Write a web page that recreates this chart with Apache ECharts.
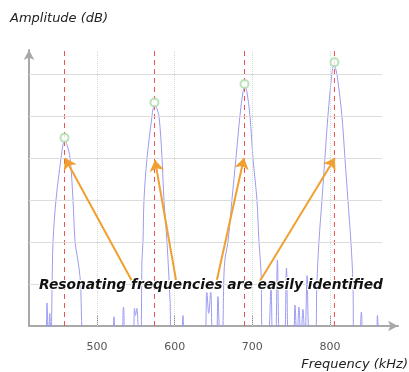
<!DOCTYPE html>
<html><head><meta charset="utf-8">
<script src="https://cdn.jsdelivr.net/npm/echarts@6/dist/echarts.min.js"></script>
<style>html,body{margin:0;padding:0;background:#fff}#c{width:409px;height:372px}</style>
</head><body><div id="c"></div>
<script>
// Spectrum curve (frequency kHz, amplitude in grid units; values below 0 fall under the axis)
const freq = [414,434,435.6,437.4,439.2,440.8,
 442.1,443.4,447.2,453.7,456.3,458.8,461.3,465.3,469.1,471.7,474.6,478,485.8,
 519,521.9,524.5,530.9,534.1,537.3,546.3,548.3,549.6,551.3,553.8,
 556.2,557.9,559.2,560.5,564.4,570.8,572.3,574.6,577.0,579.8,583.7,586.2,590.1,594,596.5,
 608.1,610.7,613.3,637.7,641.4,643.8,646.4,649.3,653.2,655.7,658.3,
 660.9,663.4,664.9,668.6,673.7,678.9,684.0,688.0,690.5,693.0,696.9,700.8,705.9,708.5,711.1,713.6,
 720.1,724.0,726.5,729.5,732.3,735.5,740.7,743.9,747.1,752.3,754.8,757.4,760.0,762.5,765.1,767.7,770.5,773.5,
 780.6,783.1,785.7,789.6,793.4,797.3,802.4,805.0,807.4,810.0,815.3,819.2,823.0,826.9,829.5,830.8,
 837.2,840.4,843.6,859.1,861.0,862.9,866.8];
const amp = [-1,-0.3,0.55,-0.3,0.3,-0.5,
 0.86,2.0,3.0,4.0,4.32,4.40,4.32,4.0,3.0,2.0,1.66,1.2,-0.5,
 -0.4,0.22,-0.4,-0.4,0.45,-0.4,-0.3,0.42,0.25,0.42,-0.3,
 -0.5,1.57,2.0,3.0,4.0,5.0,5.18,5.26,5.18,5.0,4.0,3.0,2.0,0.62,-0.5,
 -0.4,0.25,-0.4,-0.4,0.8,0.3,0.8,-0.4,-0.4,0.7,-0.4,
 -0.5,1.2,1.62,2.0,3.0,4.0,5.0,5.58,5.69,5.58,5.0,4.0,3.0,2.0,1.33,-0.5,
 -0.4,0.9,-0.4,-0.4,1.57,-0.4,-0.4,1.38,-0.4,-0.4,0.5,-0.4,0.45,-0.4,0.4,-0.4,1.2,-0.4,
 -0.5,1.0,2.0,3.0,4.0,5.0,6.0,6.21,6.12,5.85,5.0,4.0,3.0,2.0,1.0,-0.5,
 -0.4,0.33,-0.4,-0.4,0.25,-0.4,-1];
// Identified resonances
const peakFreq = [458.15, 574.0, 689.9, 805.7];
const peakAmp = [4.48, 5.32, 5.76, 6.28];
// Arrow annotations: tail (near the caption) -> tip (on each peak)
const arrowTail = [[545,1.07],[601.7,1.1],[654.4,1.1],[709.8,1.07]];
const arrowTip = [[458.8,4.0],[574.6,3.95],[689.2,4.0],[806.3,4.0]];
// Axis ticks / grid levels
const xTicks = [500, 600, 700, 800];
const yLevels = [1, 2, 3, 4, 5, 6];
const xMin = 412.45, xMax = 887.5, gridEnd = 867, yMax = 276/42;

const chart = echarts.init(document.getElementById('c'));
const curve = freq.map((f, i) => [f, amp[i]]);
const redSeries = peakFreq.map(f => ({
  type: 'line', data: [[f, 0], [f, yMax]], showSymbol: false, silent: true, z: 3,
  lineStyle: {color: '#f05050', type: [5, 4], width: 1}
}));
chart.setOption({
  animation: false,
  grid: {left: 29, top: 50, right: 11, bottom: 46},
  xAxis: {
    type: 'value', min: xMin, max: xMax,
    axisLine: {show: true, symbol: ['none', 'arrow'], symbolSize: [8, 10], lineStyle: {color: '#a8a8a8', width: 2}},
    axisTick: {show: true, inside: true, length: 10, customValues: xTicks, lineStyle: {color: '#888', width: 1}},
    axisLabel: {customValues: xTicks, margin: 16, color: '#555', fontSize: 11, fontFamily: 'DejaVu Sans'},
    splitLine: {show: false}
  },
  yAxis: {
    type: 'value', min: 0, max: yMax,
    axisLine: {show: true, symbol: ['none', 'arrow'], symbolSize: [8, 10], lineStyle: {color: '#a8a8a8', width: 2}},
    axisTick: {show: false}, axisLabel: {show: false}, splitLine: {show: false}
  },
  graphic: [
    {type: 'text', left: 10, top: 12, style: {text: 'Amplitude (dB)', font: 'italic 13px "DejaVu Sans"', fill: '#222'}},
    {type: 'text', right: 1, top: 358, style: {text: 'Frequency (kHz)', font: 'italic 13px "DejaVu Sans"', fill: '#222'}},
    {type: 'text', left: 38, top: 277, z: 100, style: {text: 'Resonating frequencies are easily identified', font: 'italic bold 13.8px "DejaVu Sans"', fill: '#111', stroke: '#fff', lineWidth: 2}}
  ],
  series: [
    {type: 'line', data: [], silent: true, z: 1,
     markLine: {silent: true, symbol: 'none', label: {show: false},
       lineStyle: {color: '#dcdcdc', type: 'solid', width: 1},
       data: yLevels.map(v => [{coord: [xMin, v]}, {coord: [gridEnd, v]}])}},
    {type: 'line', data: [], silent: true, z: 1,
     markLine: {silent: true, symbol: 'none', label: {show: false},
       lineStyle: {color: '#cfdccf', type: 'dotted', width: 1},
       data: xTicks.map(v => [{coord: [v, 0]}, {coord: [v, yMax]}])}},
    {type: 'line', data: curve, smooth: 0.35, showSymbol: false, clip: true, z: 2,
     lineStyle: {color: '#9c9cf2', width: 1}},
    ...redSeries,
    {type: 'scatter', data: peakFreq.map((f, i) => [f, peakAmp[i]]), symbol: 'emptyCircle', symbolSize: 8, z: 4,
     itemStyle: {color: '#a6dca6', borderWidth: 1}},
    {type: 'line', data: [], silent: true, z: 5,
     markLine: {silent: true, symbol: ['none', 'arrow'], symbolSize: 11, label: {show: false},
       lineStyle: {color: '#f0a030', type: 'solid', width: 2},
       data: arrowTail.map((t, i) => [{coord: t}, {coord: arrowTip[i]}])}}
  ]
});
</script></body></html>
